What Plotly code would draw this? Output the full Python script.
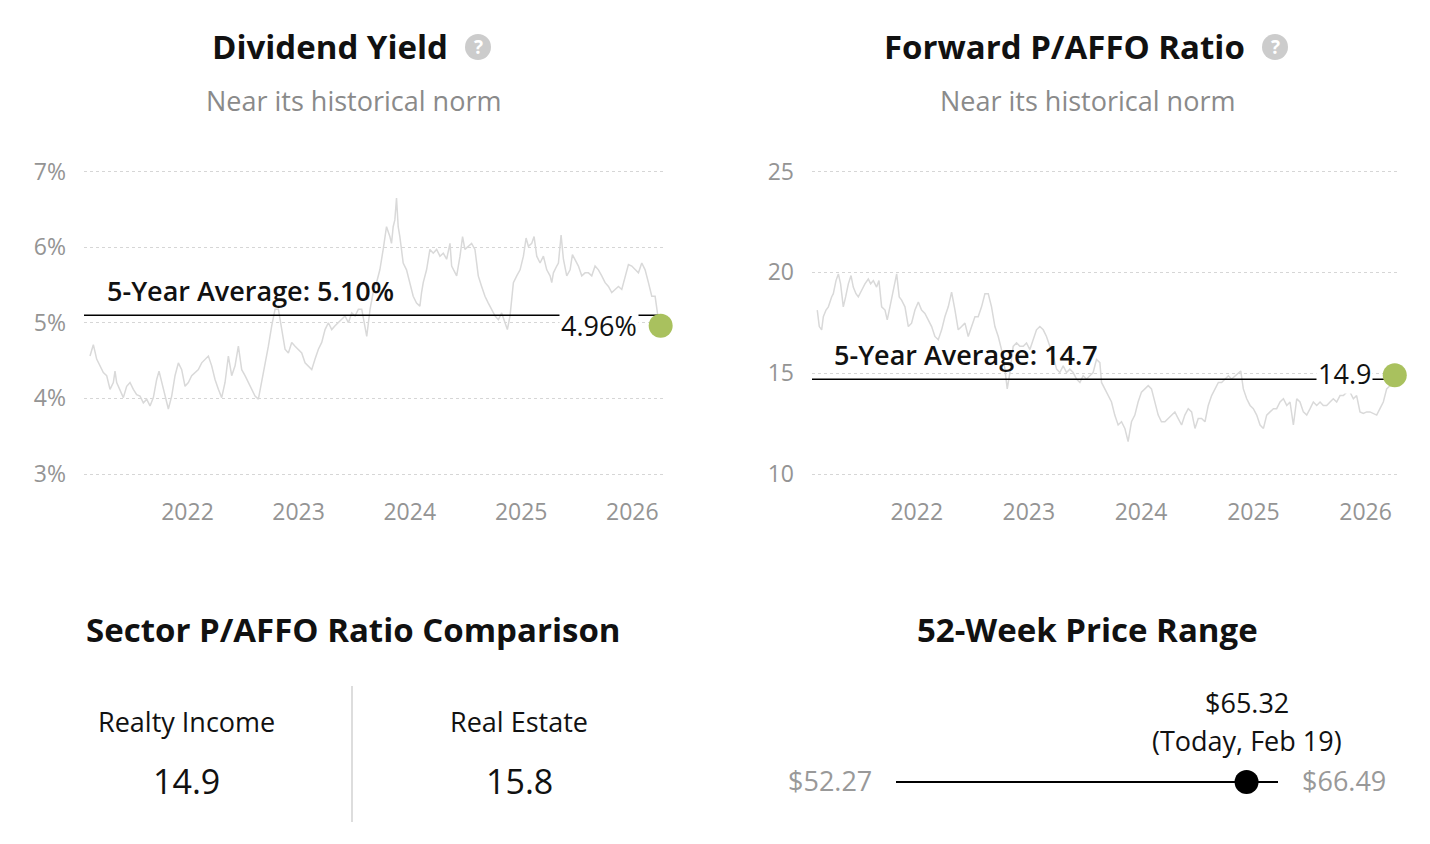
import plotly.graph_objects as go
from datetime import datetime

# ---------------- data ----------------
yield_years = [
    2021.123, 2021.153, 2021.183, 2021.213, 2021.243, 2021.273, 2021.303, 2021.333, 2021.348, 2021.363,
    2021.393, 2021.423, 2021.453, 2021.483, 2021.513, 2021.543, 2021.573, 2021.603, 2021.633, 2021.663,
    2021.693, 2021.723, 2021.744, 2021.768, 2021.798, 2021.828, 2021.858, 2021.888, 2021.918, 2021.948,
    2021.978, 2022.008, 2022.038, 2022.068, 2022.098, 2022.128, 2022.158, 2022.188, 2022.218, 2022.248,
    2022.278, 2022.308, 2022.338, 2022.368, 2022.398, 2022.428, 2022.458, 2022.488, 2022.518, 2022.548,
    2022.578, 2022.608, 2022.638, 2022.668, 2022.698, 2022.728, 2022.758, 2022.788, 2022.818, 2022.848,
    2022.878, 2022.908, 2022.938, 2022.968, 2022.998, 2023.028, 2023.058, 2023.088, 2023.118, 2023.148,
    2023.178, 2023.208, 2023.238, 2023.268, 2023.298, 2023.328, 2023.358, 2023.388, 2023.418, 2023.448,
    2023.478, 2023.508, 2023.538, 2023.568, 2023.598, 2023.613, 2023.643, 2023.671, 2023.701, 2023.731,
    2023.761, 2023.791, 2023.821, 2023.836, 2023.851, 2023.866, 2023.881, 2023.896, 2023.911, 2023.926,
    2023.941, 2023.971, 2024.001, 2024.031, 2024.061, 2024.091, 2024.106, 2024.121, 2024.151, 2024.181,
    2024.211, 2024.241, 2024.271, 2024.301, 2024.331, 2024.361, 2024.376, 2024.391, 2024.421, 2024.451,
    2024.474, 2024.495, 2024.525, 2024.555, 2024.585, 2024.615, 2024.645, 2024.675, 2024.705, 2024.735,
    2024.765, 2024.795, 2024.825, 2024.855, 2024.876, 2024.900, 2024.930, 2024.960, 2024.990, 2025.020,
    2025.044, 2025.065, 2025.095, 2025.116, 2025.140, 2025.170, 2025.200, 2025.230, 2025.260, 2025.275,
    2025.290, 2025.320, 2025.335, 2025.359, 2025.380, 2025.410, 2025.440, 2025.461, 2025.485, 2025.515,
    2025.545, 2025.575, 2025.605, 2025.635, 2025.665, 2025.695, 2025.725, 2025.755, 2025.785, 2025.815,
    2025.845, 2025.875, 2025.905, 2025.935, 2025.965, 2025.995, 2026.025, 2026.055, 2026.085, 2026.115,
    2026.145, 2026.175, 2026.205, 2026.226, 2026.255,
]
yield_values = [
    4.56, 4.71, 4.52, 4.43, 4.34, 4.30, 4.12, 4.21, 4.36, 4.21,
    4.12, 4.01, 4.16, 4.21, 4.12, 4.05, 4.03, 3.94, 3.99, 3.90,
    4.01, 4.25, 4.36, 4.21, 4.03, 3.86, 4.03, 4.30, 4.47, 4.38,
    4.16, 4.21, 4.30, 4.34, 4.38, 4.47, 4.52, 4.56, 4.43, 4.25,
    4.12, 4.01, 4.21, 4.56, 4.30, 4.43, 4.69, 4.38, 4.30, 4.21,
    4.12, 4.03, 3.99, 4.21, 4.43, 4.69, 4.96, 5.18, 5.18, 4.91,
    4.65, 4.60, 4.74, 4.69, 4.65, 4.60, 4.47, 4.43, 4.38, 4.52,
    4.65, 4.74, 4.91, 5.00, 4.91, 4.96, 5.00, 5.04, 5.09, 5.00,
    5.13, 5.09, 5.18, 5.18, 4.96, 4.82, 5.18, 5.40, 5.53, 5.70,
    5.97, 6.27, 6.14, 6.05, 6.27, 6.36, 6.65, 6.27, 6.14, 5.97,
    5.79, 5.70, 5.53, 5.35, 5.26, 5.22, 5.40, 5.53, 5.70, 5.97,
    5.92, 5.97, 5.88, 5.92, 5.84, 6.05, 5.75, 5.70, 5.62, 5.88,
    6.14, 5.97, 6.01, 6.05, 5.97, 5.62, 5.48, 5.35, 5.26, 5.18,
    5.09, 5.04, 5.13, 5.00, 4.91, 5.09, 5.53, 5.62, 5.70, 5.88,
    6.12, 6.01, 6.05, 6.14, 5.88, 5.79, 5.88, 5.70, 5.62, 5.53,
    5.66, 5.75, 5.79, 6.16, 5.84, 5.62, 5.70, 5.90, 5.84, 5.75,
    5.62, 5.66, 5.66, 5.62, 5.75, 5.70, 5.62, 5.53, 5.48, 5.40,
    5.44, 5.48, 5.44, 5.62, 5.77, 5.75, 5.70, 5.66, 5.79, 5.70,
    5.53, 5.35, 5.35, 5.13, 4.96,
]
yield_avg = 5.10
yield_current = 4.96

ratio_years = [
    2021.113, 2021.131, 2021.152, 2021.167, 2021.191, 2021.212, 2021.241, 2021.256, 2021.280, 2021.301,
    2021.321, 2021.345, 2021.366, 2021.390, 2021.414, 2021.434, 2021.458, 2021.479, 2021.509, 2021.538,
    2021.568, 2021.589, 2021.613, 2021.642, 2021.663, 2021.687, 2021.717, 2021.737, 2021.761, 2021.791,
    2021.821, 2021.844, 2021.865, 2021.895, 2021.925, 2021.954, 2021.984, 2022.014, 2022.043, 2022.073,
    2022.103, 2022.133, 2022.162, 2022.192, 2022.222, 2022.251, 2022.281, 2022.311, 2022.341, 2022.370,
    2022.400, 2022.430, 2022.459, 2022.489, 2022.519, 2022.548, 2022.578, 2022.608, 2022.638, 2022.667,
    2022.697, 2022.727, 2022.756, 2022.786, 2022.807, 2022.831, 2022.860, 2022.890, 2022.920, 2022.950,
    2022.979, 2023.009, 2023.039, 2023.068, 2023.098, 2023.128, 2023.157, 2023.187, 2023.217, 2023.247,
    2023.276, 2023.306, 2023.336, 2023.365, 2023.395, 2023.425, 2023.455, 2023.484, 2023.514, 2023.544,
    2023.573, 2023.603, 2023.633, 2023.648, 2023.677, 2023.707, 2023.737, 2023.766, 2023.796, 2023.826,
    2023.856, 2023.885, 2023.915, 2023.945, 2023.974, 2024.004, 2024.034, 2024.064, 2024.093, 2024.123,
    2024.153, 2024.182, 2024.212, 2024.242, 2024.272, 2024.301, 2024.331, 2024.361, 2024.390, 2024.420,
    2024.450, 2024.480, 2024.509, 2024.539, 2024.569, 2024.598, 2024.628, 2024.658, 2024.688, 2024.717,
    2024.747, 2024.777, 2024.806, 2024.836, 2024.866, 2024.887, 2024.910, 2024.940, 2024.970, 2024.999,
    2025.029, 2025.059, 2025.089, 2025.118, 2025.148, 2025.178, 2025.207, 2025.237, 2025.267, 2025.297,
    2025.326, 2025.356, 2025.386, 2025.415, 2025.445, 2025.475, 2025.505, 2025.534, 2025.564, 2025.594,
    2025.623, 2025.653, 2025.683, 2025.712, 2025.742, 2025.772, 2025.802, 2025.831, 2025.861, 2025.891,
    2025.920, 2025.950, 2025.980, 2026.010, 2026.039, 2026.069, 2026.099, 2026.128, 2026.158, 2026.188,
    2026.218, 2026.260,
]
ratio_values = [
    18.13, 17.31, 17.15, 17.80, 18.13, 18.29, 18.78, 18.94, 19.59, 19.92,
    19.43, 18.29, 18.78, 19.43, 19.84, 19.27, 18.94, 18.78, 19.11, 19.43,
    19.67, 19.43, 19.59, 19.27, 19.59, 18.29, 18.13, 17.64, 18.29, 19.11,
    19.92, 18.78, 18.62, 18.29, 17.31, 17.48, 18.13, 18.53, 18.13, 17.96,
    17.64, 17.31, 16.82, 16.66, 17.15, 17.80, 18.29, 19.02, 18.13, 17.15,
    17.31, 17.48, 16.82, 17.31, 17.80, 17.80, 18.29, 18.94, 18.94, 18.29,
    17.31, 16.82, 16.17, 15.20, 14.22, 15.03, 16.33, 16.50, 16.33, 16.33,
    16.50, 16.17, 16.66, 17.15, 17.31, 17.15, 16.82, 16.33, 15.85, 15.20,
    15.03, 15.36, 15.03, 15.20, 15.03, 14.71, 14.54, 14.87, 14.71, 14.87,
    15.03, 15.68, 15.52, 14.54, 14.22, 13.89, 13.57, 12.92, 12.43, 12.59,
    12.26, 11.61, 12.59, 12.92, 13.57, 14.06, 14.22, 14.38, 14.22, 13.57,
    12.92, 12.59, 12.59, 12.75, 12.92, 13.08, 12.75, 12.43, 12.92, 13.24,
    13.08, 12.26, 12.75, 12.75, 12.59, 13.40, 13.89, 14.22, 14.54, 14.54,
    14.71, 14.87, 14.71, 14.87, 15.03, 15.11, 14.22, 13.73, 13.40, 13.24,
    12.92, 12.43, 12.26, 12.92, 13.08, 13.24, 13.24, 13.57, 13.73, 13.40,
    13.57, 12.43, 13.73, 13.57, 13.08, 12.92, 13.24, 13.57, 13.40, 13.57,
    13.40, 13.40, 13.57, 13.73, 13.57, 13.89, 13.89, 14.06, 14.06, 13.73,
    13.89, 13.08, 13.00, 13.08, 13.08, 13.00, 12.92, 13.24, 13.57, 14.22,
    14.38, 14.90,
]
ratio_avg = 14.7
ratio_current = 14.9

yield_ticks = [3, 4, 5, 6, 7]
yield_tick_labels = ["3%", "4%", "5%", "6%", "7%"]
ratio_ticks = [10, 15, 20, 25]
ratio_tick_labels = ["10", "15", "20", "25"]

sector_labels = ["Realty Income", "Real Estate"]
sector_values = [14.9, 15.8]

price_low = 52.27
price_high = 66.49
price_current = 65.32
price_date_label = "Today, Feb 19"

# ---------------- helpers ----------------
W, H = 1430, 844


def to_date(y):
    yr = int(y)
    a = datetime(yr, 1, 1)
    b = datetime(yr + 1, 1, 1)
    return a + (b - a) * (y - yr)


def px(x):
    return x / W


def py(y):
    return 1 - y / H


yield_dates = [to_date(v) for v in yield_years]
ratio_dates = [to_date(v) for v in ratio_years]

FONT = "Open Sans"
GRAY_LINE = "#d9d9d9"
GREEN = "#a9c15e"
TICK_GRAY = "#949494"

yr_range1 = [to_date(2021.069), to_date(2026.303)]
yr_range2 = [to_date(2021.066), to_date(2026.289)]

fig = go.Figure()

# Dividend yield chart
fig.add_trace(go.Scatter(x=yield_dates, y=yield_values, mode="lines",
                         line=dict(color=GRAY_LINE, width=1.5), xaxis="x", yaxis="y",
                         hoverinfo="skip"))
fig.add_trace(go.Scatter(x=[yr_range1[0], yield_dates[-1]], y=[yield_avg, yield_avg], mode="lines",
                         line=dict(color="#000000", width=1.6), xaxis="x", yaxis="y", hoverinfo="skip"))
fig.add_trace(go.Scatter(x=[yield_dates[-1]], y=[yield_current], mode="markers",
                         marker=dict(color=GREEN, size=24), xaxis="x", yaxis="y", hoverinfo="skip",
                         cliponaxis=False))

# Forward P/AFFO chart
fig.add_trace(go.Scatter(x=ratio_dates, y=ratio_values, mode="lines",
                         line=dict(color=GRAY_LINE, width=1.5), xaxis="x2", yaxis="y2",
                         hoverinfo="skip"))
fig.add_trace(go.Scatter(x=[yr_range2[0], ratio_dates[-1]], y=[ratio_avg, ratio_avg], mode="lines",
                         line=dict(color="#000000", width=1.6), xaxis="x2", yaxis="y2", hoverinfo="skip"))
fig.add_trace(go.Scatter(x=[ratio_dates[-1]], y=[ratio_current], mode="markers",
                         marker=dict(color=GREEN, size=24), xaxis="x2", yaxis="y2", hoverinfo="skip",
                         cliponaxis=False))

# 52-week range
fig.add_trace(go.Scatter(x=[price_low, price_high], y=[0, 0], mode="lines",
                         line=dict(color="#000000", width=2), xaxis="x3", yaxis="y3", hoverinfo="skip",
                         cliponaxis=False))
fig.add_trace(go.Scatter(x=[price_current], y=[0], mode="markers",
                         marker=dict(color="#000000", size=24), xaxis="x3", yaxis="y3", hoverinfo="skip",
                         cliponaxis=False))

# y domain: value 7 at 171.5 px, 3 at 474 px (with small padding so edge gridlines are drawn)
ydom = [py(478.0), py(167.5)]
pad1 = (478.0 - 474.0) / (474.0 - 171.5) * 4
pad2 = (478.0 - 474.0) / (474.0 - 171.5) * 15

common_x = dict(type="date", dtick="M12", tickformat="%Y", showgrid=False, zeroline=False,
                showline=False, ticks="", tickfont=dict(size=23, color=TICK_GRAY, family=FONT),
                ticklabelstandoff=18, fixedrange=True, automargin=False)
common_y = dict(showgrid=True, gridcolor="#d6d6d6", griddash="dot", gridwidth=1, zeroline=False,
                showline=False, ticks="", tickfont=dict(size=23, color=TICK_GRAY, family=FONT),
                ticklabelstandoff=17, fixedrange=True, automargin=False, tickmode="array")

fig.update_layout(
    width=W, height=H, margin=dict(l=0, r=0, t=0, b=0, pad=0, autoexpand=False),
    autosize=False,
    paper_bgcolor="white", plot_bgcolor="white", showlegend=False,
    font=dict(family=FONT, color="#111111"),
    xaxis=dict(domain=[px(84), px(666)], range=yr_range1, anchor="y", **common_x),
    yaxis=dict(domain=ydom, range=[3 - pad1, 7 + pad1], tickvals=yield_ticks,
               ticktext=yield_tick_labels, anchor="x", **common_y),
    xaxis2=dict(domain=[px(812), px(1398)], range=yr_range2, anchor="y2", **common_x),
    yaxis2=dict(domain=ydom, range=[10 - pad2, 25 + pad2], tickvals=ratio_ticks,
                ticktext=ratio_tick_labels, anchor="x2", **common_y),
    xaxis3=dict(domain=[px(896), px(1278)], range=[price_low, price_high], visible=False,
                anchor="y3", fixedrange=True, automargin=False),
    yaxis3=dict(domain=[py(800), py(764)], range=[-1, 1], visible=False, anchor="x3",
                fixedrange=True, automargin=False),
)

ann = []


def text(x, y, t, size, color="#111111", weight=400, xanchor="center", yanchor="middle", **kw):
    ann.append(dict(x=x, y=y, text=t, showarrow=False, xanchor=xanchor, yanchor=yanchor,
                    font=dict(family=FONT, size=size, color=color, weight=weight), **kw))


# titles
text(px(330), py(47), "Dividend Yield", 33, weight=700, xref="paper", yref="paper")
text(px(353), py(100), "Near its historical norm", 27, color="#8a8a8a", xref="paper", yref="paper")
text(px(1064), py(47), "Forward P/AFFO Ratio", 33, weight=700, xref="paper", yref="paper")
text(px(1087), py(100), "Near its historical norm", 27, color="#8a8a8a", xref="paper", yref="paper")
text(px(353), py(629), "Sector P/AFFO Ratio Comparison", 33, weight=700, xref="paper", yref="paper")
text(px(1087), py(629), "52-Week Price Range", 33, weight=700, xref="paper", yref="paper")

# help icons
shapes = []
for cx in (478, 1275):
    shapes.append(dict(type="circle", xref="paper", yref="paper",
                       x0=px(cx - 13), x1=px(cx + 13), y0=py(47 + 13), y1=py(47 - 13),
                       fillcolor="#cccccc", line=dict(width=0)))
    text(px(cx), py(47), "?", 19, color="white", weight=700, xref="paper", yref="paper")

# average labels
text(px(105), yield_avg, f"5-Year Average: {yield_avg:.2f}%", 27, weight=600,
     xanchor="left", yanchor="bottom", xref="paper", yref="y", yshift=4)
text(px(832), ratio_avg, f"5-Year Average: {ratio_avg:.1f}", 27, weight=600,
     xanchor="left", yanchor="bottom", xref="paper", yref="y2", yshift=4)

# current value labels
text(yield_dates[-1], yield_current, f"{yield_current:.2f}%", 27, weight=500, xanchor="right",
     xref="x", yref="y", xshift=-22, bgcolor="white", borderpad=1)
text(ratio_dates[-1], ratio_current, f"{ratio_current:.1f}", 27, weight=500, xanchor="right",
     xref="x2", yref="y2", xshift=-22, yshift=2, bgcolor="white", borderpad=1)

# sector comparison
for cx, lab, val in zip((186, 519), sector_labels, sector_values):
    text(px(cx), py(721), lab, 27, color="#111111", xref="paper", yref="paper")
    text(px(cx), py(781), f"{val:.1f}", 34, color="#111111", xref="paper", yref="paper")
shapes.append(dict(type="line", xref="paper", yref="paper", x0=px(352), x1=px(352),
                   y0=py(686), y1=py(822), line=dict(color="#dddddd", width=2)))

# price range labels
text(price_low, 0, f"${price_low:.2f}", 27, color="#999999", xanchor="right",
     xref="x3", yref="y3", xshift=-22, yshift=2)
text(price_high, 0, f"${price_high:.2f}", 27, color="#999999", xanchor="left",
     xref="x3", yref="y3", xshift=22, yshift=2)
text(price_current, 0, f"${price_current:.2f}", 27, color="#111111",
     xref="x3", yref="y3", yshift=80)
text(price_current, 0, f"({price_date_label})", 27, color="#111111",
     xref="x3", yref="y3", yshift=42)

fig.update_layout(annotations=ann, shapes=shapes)

fig.write_html("out.html", config={"displayModeBar": False},
               post_script="document.body.style.margin='0';")
